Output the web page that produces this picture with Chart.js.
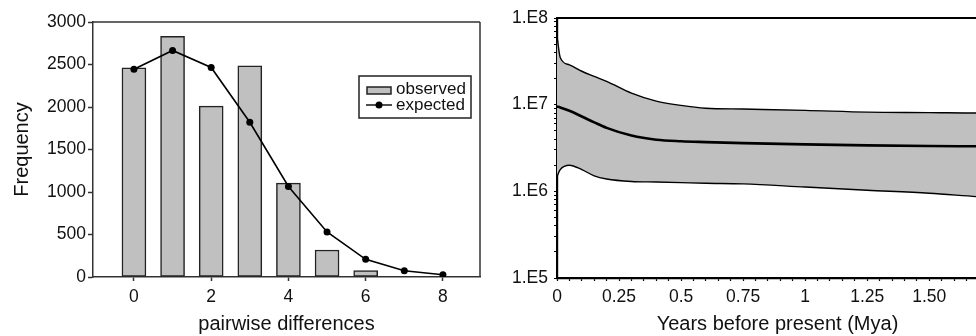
<!DOCTYPE html>
<html><head><meta charset="utf-8">
<script src="https://cdn.jsdelivr.net/npm/chart.js@4.4.1/dist/chart.umd.min.js"></script>
<style>
html,body{margin:0;padding:0;background:#fff;overflow:hidden;width:976px;height:336px;}
#left{position:absolute;left:0;top:0;width:490px;height:336px;}
#right{position:absolute;left:490px;top:0;width:520px;height:336px;}
</style></head><body>
<canvas id="left" width="490" height="336"></canvas>
<canvas id="right" width="520" height="336"></canvas>
<script>
// ---- Left chart data: mismatch distribution ----
const diffs = [0, 1, 2, 3, 4, 5, 6, 7, 8];
const observed = [2460, 2830, 2010, 2485, 1105, 318, 75, 0, 0];
const expected = [2445, 2665, 2465, 1820, 1065, 530, 208, 74, 27];
const leftXTicks = [0, 2, 4, 6, 8];
const leftYTitle = 'Frequency';
const leftXTitle = 'pairwise differences';
const legendLabels = ['observed', 'expected'];

// ---- Right chart data: Bayesian skyline (Ne over time) ----
const years    = [0,     0.013, 0.05,  0.1,   0.15,  0.2,   0.3,   0.4,   0.5,   0.6,   0.75,  1.0,   1.25,  1.5,   1.69,  1.777];
const upperNe  = [6.2e7, 3.5e7, 2.88e7,2.43e7,2.12e7,1.86e7,1.36e7,1.10e7,9.8e6, 9.1e6, 8.9e6, 8.6e6, 8.2e6, 8.1e6, 8.0e6, 8.0e6];
const medianNe = [9.5e6, 9.3e6, 8.5e6, 7.3e6, 6.25e6,5.4e6, 4.4e6, 3.94e6,3.78e6,3.7e6, 3.6e6, 3.48e6,3.39e6,3.33e6,3.31e6,3.30e6];
const lowerNe  = [1.49e6,1.78e6,2.0e6, 1.78e6,1.51e6,1.39e6,1.30e6,1.28e6,1.26e6,1.24e6,1.22e6,1.12e6,1.03e6,9.5e5, 8.7e5, 8.4e5];
const rightXTicks  = [0, 0.25, 0.5, 0.75, 1, 1.25, 1.5];
const rightXLabels = ['0', '0.25', '0.5', '0.75', '1', '1.25', '1.50'];
const rightYTicks  = [1e5, 1e6, 1e7, 1e8];
const rightYLabels = ['1.E5', '1.E6', '1.E7', '1.E8'];
const rightXTitle = 'Years before present (Mya)';

const FONT = '"Liberation Sans", Arial, Helvetica, sans-serif';
Chart.defaults.font.family = FONT;
Chart.defaults.color = '#111';

const framePlugin = {
  id: 'frame',
  afterDraw(chart, args, opts) {
    const {ctx, chartArea: a} = chart;
    ctx.save();
    ctx.strokeStyle = opts.color;
    ctx.lineWidth = opts.width;
    ctx.beginPath();
    (opts.sides || []).forEach(s => {
      if (s === 'top') { ctx.moveTo(a.left, a.top); ctx.lineTo(a.right, a.top); }
      if (s === 'right') { ctx.moveTo(a.right, a.top); ctx.lineTo(a.right, a.bottom); }
    });
    ctx.stroke();
    ctx.restore();
  }
};

const legendPlugin = {
  id: 'boxLegend',
  afterDraw(chart, args, opts) {
    if (!opts.show) return;
    const {ctx} = chart;
    const x = 359, y = 76, w = 112, h = 42;
    ctx.save();
    ctx.fillStyle = '#fff';
    ctx.fillRect(x, y, w, h);
    ctx.strokeStyle = '#222';
    ctx.lineWidth = 1.5;
    ctx.strokeRect(x, y, w, h);
    ctx.fillStyle = '#c0c0c0';
    ctx.fillRect(367, 87, 24, 7);
    ctx.strokeRect(367, 87, 24, 7);
    ctx.beginPath();
    ctx.lineWidth = 1.6;
    ctx.moveTo(366, 105); ctx.lineTo(392, 105);
    ctx.stroke();
    ctx.beginPath();
    ctx.fillStyle = '#000';
    ctx.arc(379, 105, 3.5, 0, Math.PI * 2);
    ctx.fill();
    ctx.fillStyle = '#111';
    ctx.font = '17px ' + FONT;
    ctx.textBaseline = 'middle';
    ctx.textAlign = 'left';
    ctx.fillText(legendLabels[0], 396, 89);
    ctx.fillText(legendLabels[1], 396, 105);
    ctx.restore();
  }
};

// ---------------- Left chart ----------------
new Chart(document.getElementById('left'), {
  type: 'bar',
  data: {
    datasets: [
      {
        type: 'line',
        label: legendLabels[1],
        data: diffs.map((d, i) => ({x: d, y: expected[i]})),
        borderColor: '#000',
        borderWidth: 1.6,
        pointRadius: 3.5,
        pointBackgroundColor: '#000',
        pointBorderWidth: 0,
        tension: 0,
        order: 0
      },
      {
        type: 'bar',
        label: legendLabels[0],
        data: diffs.map((d, i) => ({x: d, y: observed[i]})),
        backgroundColor: '#c0c0c0',
        borderColor: '#222',
        borderWidth: 1.5,
        borderSkipped: false,
        barThickness: 24,
        order: 1
      }
    ]
  },
  options: {
    responsive: false,
    animation: false,
    devicePixelRatio: 1,
    layout: {padding: {left: 0, right: 10, top: 22, bottom: 0}},
    plugins: {
      legend: {display: false},
      tooltip: {enabled: false},
      frame: {color: '#333', width: 1.5, sides: ['top', 'right']},
      boxLegend: {show: true}
    },
    scales: {
      x: {
        type: 'linear',
        offset: false,
        min: -1.06, max: 8.96,
        afterBuildTicks: (axis) => { axis.ticks = leftXTicks.map(v => ({value: v})); },
        afterFit: (s) => { s.height = 59; },
        ticks: {font: {size: 17.5}, padding: 6, autoSkip: false, maxRotation: 0, color: '#111',
                callback: (v) => String(v)},
        grid: {offset: false, drawOnChartArea: false, drawTicks: true, tickLength: 4, tickColor: '#333', tickWidth: 1.5},
        border: {display: true, color: '#333', width: 1.5},
        title: {display: true, text: leftXTitle, font: {size: 20}, color: '#111', padding: {top: 0, bottom: 0}}
      },
      y: {
        type: 'linear',
        min: 0, max: 3000,
        ticks: {stepSize: 500, font: {size: 17.5}, padding: 2, color: '#111', callback: (v) => String(v)},
        afterFit: (s) => { s.width = 93; },
        grid: {drawOnChartArea: false, drawTicks: true, tickLength: 5, tickColor: '#333', tickWidth: 1.5},
        border: {display: true, color: '#333', width: 1.5},
        title: {display: true, text: leftYTitle, font: {size: 20}, color: '#111', padding: {top: 10, bottom: 0}}
      }
    }
  },
  plugins: [framePlugin, legendPlugin]
});

// ---------------- Right chart ----------------
const RX_MAX = 1.777;
new Chart(document.getElementById('right'), {
  type: 'line',
  data: {
    datasets: [
      {
        label: 'median',
        data: years.map((t, i) => ({x: t, y: medianNe[i]})),
        borderColor: '#000', borderWidth: 2.6, pointRadius: 0, fill: false,
        cubicInterpolationMode: 'monotone'
      },
      {
        label: 'upper',
        data: years.map((t, i) => ({x: t, y: upperNe[i]})),
        borderColor: '#000', borderWidth: 1.4, pointRadius: 0,
        backgroundColor: '#c0c0c0', fill: 2,
        cubicInterpolationMode: 'monotone'
      },
      {
        label: 'lower',
        data: years.map((t, i) => ({x: t, y: lowerNe[i]})),
        borderColor: '#000', borderWidth: 1.4, pointRadius: 0, fill: false,
        cubicInterpolationMode: 'monotone'
      }
    ]
  },
  options: {
    responsive: false,
    animation: false,
    devicePixelRatio: 1,
    layout: {padding: {left: 0, right: 12, top: 18, bottom: 0}},
    plugins: {
      legend: {display: false},
      tooltip: {enabled: false},
      filler: {drawTime: 'beforeDatasetsDraw'},
      frame: {color: '#000', width: 2, sides: ['top']}
    },
    scales: {
      x: {
        type: 'linear',
        min: 0, max: RX_MAX,
        afterBuildTicks: (axis) => {
          const t = [];
          for (let k = 0; k * 0.05 <= RX_MAX + 1e-9; k++) t.push({value: Math.round(k * 5) / 100});
          axis.ticks = t;
        },
        afterFit: (s) => { s.height = 58; },
        ticks: {
          font: {size: 17.5}, padding: 6, autoSkip: false, maxRotation: 0, color: '#111',
          callback: (v) => { const i = rightXTicks.findIndex(m => Math.abs(m - v) < 1e-6); return i >= 0 ? rightXLabels[i] : ''; }
        },
        grid: {drawOnChartArea: false, drawTicks: true, tickLength: 3, tickColor: '#000', tickWidth: 1.2},
        border: {display: true, color: '#000', width: 2.2},
        title: {display: true, text: rightXTitle, font: {size: 20}, color: '#111', padding: {top: 0, bottom: 0}}
      },
      y: {
        type: 'logarithmic',
        min: 1e5, max: 1e8,
        afterBuildTicks: (axis) => {
          const t = [];
          for (let e = 5; e < 8; e++) for (let s = 1; s <= 9; s++) t.push({value: s * Math.pow(10, e)});
          t.push({value: 1e8});
          axis.ticks = t;
        },
        afterFit: (s) => { s.width = 67; },
        ticks: {
          font: {size: 17.5}, padding: 6, autoSkip: false, color: '#111',
          callback: (v) => { const i = rightYTicks.findIndex(m => Math.abs(m - v) / m < 1e-6); return i >= 0 ? rightYLabels[i] : ''; }
        },
        grid: {drawOnChartArea: false, drawTicks: true, tickLength: 3, tickColor: '#000', tickWidth: 1.2},
        border: {display: true, color: '#000', width: 2.2}
      }
    }
  },
  plugins: [framePlugin]
});
</script>
</body></html>
